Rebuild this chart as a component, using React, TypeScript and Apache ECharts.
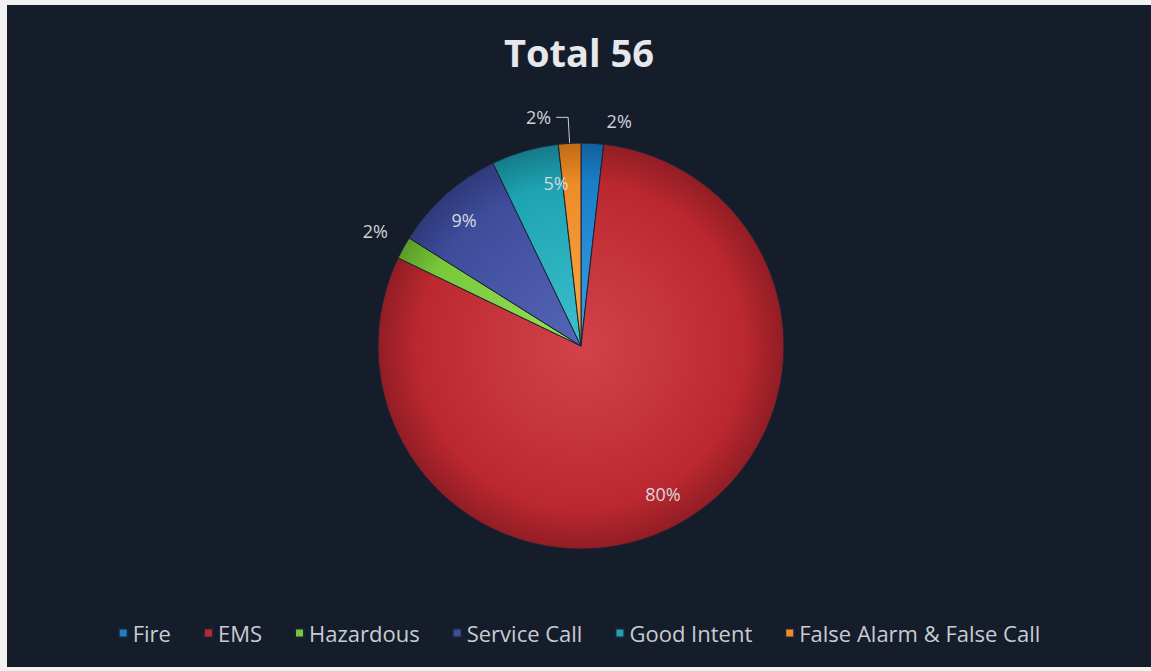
import React, { useEffect, useRef } from "react";
import * as echarts from "echarts";

const titleText = "Total 56";
const categories = ["Fire", "EMS", "Hazardous", "Service Call", "Good Intent", "False Alarm & False Call"];
const counts = [1, 45, 1, 5, 3, 1];
const baseColors = ["#1a7fc8", "#bc2830", "#78c83a", "#3e4c9c", "#1ea3b3", "#ee8c26"];
const lightColors = ["#3aa0e4", "#d2424a", "#98e05a", "#5565b5", "#3cc0cc", "#f8a848"];
const darkColors = ["#12609a", "#921d25", "#5a9a2a", "#2e3a7a", "#157a88", "#c06a16"];
const labelPlacement = ["outside", "inside", "outside", "inside", "inside", "outside"];

const CX = 574;
const CY = 341;
const R = 203;

export default function App() {
  const ref = useRef<HTMLDivElement>(null);
  useEffect(() => {
    if (!ref.current) return;
    const chart = echarts.init(ref.current, undefined, { renderer: "svg" });
    const fill = (i: number) => ({
      type: "radial",
      x: CX,
      y: CY,
      r: R,
      global: true,
      colorStops: [
        { offset: 0, color: lightColors[i] },
        { offset: 0.8, color: baseColors[i] },
        { offset: 1, color: darkColors[i] },
      ],
    });
    const pct = (p: any) => Math.round(p.percent) + "%";
    const lineCfg: Record<string, any> = {
      Fire: { show: false, length: 22, length2: 8 },
      Hazardous: { show: false, length: 12, length2: 4 },
      "False Alarm & False Call": { show: true, length: 26, length2: 12 },
    };
    const mainData = categories.map((name, i) => ({
      name,
      value: counts[i],
      itemStyle: { color: fill(i) },
      label: { show: labelPlacement[i] === "outside" },
      labelLine: lineCfg[name] || { show: false },
    }));
    const innerData = categories.map((name, i) => ({
      name,
      value: counts[i],
      label: { show: labelPlacement[i] === "inside" },
    }));
    chart.setOption({
      animation: false,
      backgroundColor: "#151d2b",
      title: {
        text: titleText,
        left: "center",
        top: 23,
        textStyle: {
          color: "#e6e8ec",
          fontSize: 38,
          fontWeight: "bold",
          fontFamily: "Open Sans",
        },
      },
      legend: {
        bottom: 18,
        left: "center",
        icon: "rect",
        itemWidth: 9,
        itemHeight: 9,
        itemGap: 32,
        data: categories.map((name, i) => ({ name, itemStyle: { color: baseColors[i] } })),
        textStyle: { color: "#c8ccd2", fontSize: 22, fontFamily: "Open Sans", padding: [0, 0, 0, 0] },
      },
      series: [
        {
          type: "pie",
          center: [CX, CY],
          radius: [0, R],
          startAngle: 90,
          clockwise: true,
          avoidLabelOverlap: false,
          itemStyle: { borderColor: "#1b2333", borderWidth: 1 },
          label: {
            position: "outside",
            formatter: pct,
            color: "#cfd2d6",
            fontSize: 18,
            fontFamily: "Open Sans",
          },
          labelLine: { lineStyle: { color: "#c8ccd0", width: 1 }, smooth: false },
          labelLayout: (p: any) => (p.dataIndex === 2 ? { dy: -11, dx: 4 } : {}),
          emphasis: { disabled: true },
          data: mainData,
        },
        {
          type: "pie",
          center: [CX, CY],
          radius: [0, R * 1.64],
          startAngle: 90,
          clockwise: true,
          silent: true,
          avoidLabelOverlap: false,
          legendHoverLink: false,
          itemStyle: { color: "rgba(0,0,0,0)", borderWidth: 0 },
          label: {
            position: "inner",
            formatter: pct,
            color: "#d6d8de",
            fontSize: 18,
            fontFamily: "Open Sans",
          },
          labelLine: { show: false },
          labelLayout: (p: any) => (p.dataIndex === 4 ? { dx: 22 } : p.dataIndex === 3 ? { dx: -4 } : {}),
          emphasis: { disabled: true },
          data: innerData,
        },
      ],
    });
    return () => chart.dispose();
  }, []);
  return (
    <div style={{ position: "fixed", left: 0, top: 0, width: 1151, height: 671, background: "#f2f2f2" }}>
      <div ref={ref} style={{ position: "absolute", left: 7, top: 5, width: 1144, height: 662 }} />
    </div>
  );
}
